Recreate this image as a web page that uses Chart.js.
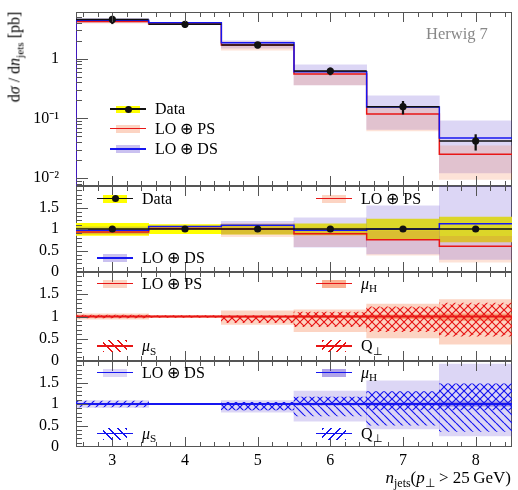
<!DOCTYPE html>
<html>
<head>
<meta charset="utf-8">
<script src="https://cdn.jsdelivr.net/npm/chart.js@4.4.1/dist/chart.umd.min.js"></script>
<style>
  body { margin: 0; background: #fff; }
  #wrap { position: relative; width: 518px; height: 490px; font-family: "Liberation Serif", serif; overflow: hidden; }
  #wrap canvas { position: absolute; left: 0; }
  .lbl { position: absolute; font-size: 16px; line-height: 18px; white-space: nowrap; color: #000; }
  .lbl .sb { font-size: 0.7em; position: relative; top: 0.35em; font-style: normal; }
  .sw { position: absolute; }
</style>
</head>
<body>
<div id="wrap">
  <canvas id="p1" width="518" height="194" style="top:2px"></canvas>
  <canvas id="p2" width="518" height="106" style="top:176px"></canvas>
  <canvas id="p3" width="518" height="109" style="top:262px"></canvas>
  <canvas id="p4" width="518" height="126" style="top:351px"></canvas>
</div>
<script>
  /* =========================
     DATA
  ========================= */
  const nJets = [3, 4, 5, 6, 7, 8];

  // top panel: dσ/dn_jets [pb]
  const dataXsec  = [4.55, 3.77, 1.70, 0.622, 0.157, 0.0418];
  const dataErrLo = [3.85, 3.35, 1.50, 0.535, 0.118, 0.0293];
  const dataErrHi = [5.15, 4.15, 1.87, 0.700, 0.193, 0.0535];
  const psXsec    = [4.20, 3.82, 1.70, 0.553, 0.118, 0.0251];
  const psXsecLo  = [3.95, 3.74, 1.39, 0.365, 0.0614, 0.00954];
  const psXsecHi  = [4.45, 3.90, 1.92, 0.636, 0.151, 0.0346];
  const dsXsec    = [4.40, 4.00, 1.85, 0.605, 0.155, 0.0470];
  const dsXsecLo  = [4.05, 3.96, 1.50, 0.363, 0.0651, 0.0122];
  const dsXsecHi  = [4.75, 4.04, 2.00, 0.787, 0.239, 0.0907];

  // ratio to data
  const dataRatio   = [1, 1, 1, 1, 1, 1];
  const dataRatioLo = [0.85, 0.89, 0.88, 0.86, 0.75, 0.70];
  const dataRatioHi = [1.13, 1.10, 1.10, 1.12, 1.23, 1.28];
  const psRatio     = [0.93, 1.01, 1.00, 0.89, 0.75, 0.60];
  const psRatioLo   = [0.87, 0.99, 0.82, 0.59, 0.39, 0.23];
  const psRatioHi   = [0.99, 1.03, 1.13, 1.02, 0.96, 0.83];
  const dsRatio     = [0.97, 1.06, 1.09, 0.97, 1.00, 1.12];
  const dsRatioLo   = [0.89, 1.05, 0.88, 0.58, 0.42, 0.29];
  const dsRatioHi   = [1.05, 1.07, 1.18, 1.26, 1.54, 2.16];

  // LO+PS variations relative to LO+PS
  const psCentral = [1, 1, 1, 1, 1, 1];
  const psEnvLo = [0.94, 0.98, 0.82, 0.66, 0.52, 0.38];
  const psEnvHi = [1.06, 1.02, 1.13, 1.15, 1.28, 1.38];
  const psMuHLo = [0.99, 0.99, 0.98, 0.97, 0.95, 0.91];
  const psMuHHi = [1.01, 1.01, 1.01, 1.02, 1.04, 1.06];
  const psMuSLo = [0.98, 0.98, 0.88, 0.79, 0.68, 0.60];
  const psMuSHi = [1.02, 1.02, 1.02, 1.09, 1.20, 1.26];
  const psQLo   = [0.97, 0.99, 0.86, 0.77, 0.66, 0.56];
  const psQHi   = [1.03, 1.01, 1.00, 1.10, 1.22, 1.30];

  // LO+DS variations relative to LO+DS
  const dsCentral = [1, 1, 1, 1, 1, 1];
  const dsEnvLo = [0.92, 0.99, 0.81, 0.60, 0.42, 0.26];
  const dsEnvHi = [1.08, 1.01, 1.08, 1.30, 1.54, 1.93];
  const dsMuHLo = [0.99, 0.995, 0.99, 0.98, 0.97, 0.95];
  const dsMuHHi = [1.01, 1.005, 1.01, 1.02, 1.03, 1.05];
  const dsMuSLo = [0.99, 0.99, 0.86, 0.72, 0.51, 0.36];
  const dsMuSHi = [1.01, 1.01, 1.04, 1.16, 1.29, 1.47];
  const dsQLo   = [0.93, 0.995, 0.86, 0.98, 0.86, 0.86];
  const dsQHi   = [1.07, 1.005, 1.04, 1.16, 1.29, 1.47];

  // axis ticks
  const logTicks = [0.01, 0.1, 1];
  const logTickLabels = ["10\u207B\u00B2", "10\u207B\u00B9", "1"];
  const ratioTicks = [0, 0.5, 1, 1.5];
  const ratioTickLabels = ["0", "0.5", "1", "1.5"];

  /* =========================
     STYLE
  ========================= */
  const FONT = "Liberation Serif";
  const RED = "rgb(232,22,22)";
  const BLUE = "rgb(22,22,240)";
  const YELLOW = "rgb(255,255,0)";
  const PS_BAND = "rgba(245,112,55,0.2)";
  const DS_BAND = "rgba(80,50,205,0.2)";
  const PS_ENV = "rgba(245,112,55,0.3)";
  const PS_MUH = "rgba(245,112,55,0.55)";
  const DS_ENV = "rgba(80,50,205,0.2)";
  const DS_MUH = "rgba(80,50,205,0.45)";
  const HALF = 0.5;

  /* =========================
     HELPERS
  ========================= */
  function steps(vals, floor) {
    const pts = nJets.map((n, i) => ({ x: n - HALF, y: vals[i] }));
    pts.push({ x: nJets[nJets.length - 1] + HALF, y: vals[vals.length - 1] });
    if (floor) pts.unshift({ x: nJets[0] - HALF, y: floor });
    return pts;
  }
  function band(lo, hi) {
    return nJets.map((n, i) => ({ x: n, y: [lo[i], hi[i]] }));
  }
  function xErr(vals) {
    const pts = [];
    nJets.forEach((n, i) => {
      pts.push({ x: n - HALF, y: vals[i] }, { x: n + HALF, y: vals[i] }, { x: n + HALF, y: null });
    });
    return pts;
  }
  function points(vals) {
    return nJets.map((n, i) => ({ x: n, y: vals[i] }));
  }

  function bandSet(data, color, order) {
    return { type: "bar", data, backgroundColor: color, borderWidth: 0,
             barPercentage: 1, categoryPercentage: 1, grouped: false, order };
  }
  function lineSet(data, color, width, order) {
    return { type: "line", data, borderColor: color, borderWidth: width, stepped: "before",
             pointRadius: 0, fill: false, spanGaps: false, order };
  }
  function dotSet(data, order) {
    return { type: "line", data, showLine: false, pointRadius: 3.6, pointBorderWidth: 0,
             pointBackgroundColor: "#111", order };
  }
  function errSet(data, order) {
    return { type: "bar", data, backgroundColor: "#111", borderWidth: 0,
             barThickness: 1.6, grouped: false, order };
  }

  function hatch(canvasId, color, dir) {
    const c = document.createElement("canvas");
    c.width = c.height = 8;
    const g = c.getContext("2d");
    g.strokeStyle = color;
    g.lineWidth = 1.2;
    g.beginPath();
    for (const k of [-8, 0, 8]) {
      if (dir === "\\") { g.moveTo(k, 0); g.lineTo(k + 8, 8); }
      else { g.moveTo(k, 8); g.lineTo(k + 8, 0); }
    }
    g.stroke();
    return document.getElementById(canvasId).getContext("2d").createPattern(c, "repeat");
  }

  // frame and inward ticks
  const frameTicks = {
    id: "frameTicks",
    beforeDatasetsDraw(chart) {
      const { ctx, chartArea: a } = chart;
      ctx.save();
      ctx.strokeStyle = "#555";
      ctx.lineWidth = 1;
      ctx.strokeRect(a.left + 0.5, a.top + 0.5, a.right - a.left - 1, a.bottom - a.top - 1);
      ctx.restore();
    },
    afterDatasetsDraw(chart) {
      const { ctx, chartArea: a, scales: { x, y } } = chart;
      ctx.save();
      ctx.strokeStyle = "#555";
      ctx.lineWidth = 1;
      ctx.beginPath();
      for (let i = 13; i <= 42; i++) {
        const px = Math.round(x.getPixelForValue(i / 5)) + 0.5;
        const len = i % 5 === 0 ? 10 : 5;
        ctx.moveTo(px, a.bottom); ctx.lineTo(px, a.bottom - len);
        ctx.moveTo(px, a.top); ctx.lineTo(px, a.top + len);
      }
      const tick = (v, major) => {
        const py = Math.round(y.getPixelForValue(v)) + 0.5;
        if (py < a.top || py > a.bottom) return;
        ctx.moveTo(a.left, py); ctx.lineTo(a.left + (major ? 12 : 6), py);
      };
      if (y.type === "logarithmic") {
        for (let d = -3; d <= 1; d++)
          for (let m = 1; m <= 9; m++) tick(m * Math.pow(10, d), m === 1);
      } else {
        for (let i = 0; i <= 20; i++) tick(i / 10, i % 5 === 0);
      }
      ctx.stroke();
      ctx.restore();
    }
  };

  function makeChart(id, yScale, datasets, showX) {
    return new Chart(document.getElementById(id), {
      type: "bar",
      data: { datasets },
      options: {
        responsive: false,
        animation: false,
        events: [],
        layout: { padding: { top: 10, bottom: showX ? 0 : 10, left: 0, right: 6 } },
        plugins: { legend: { display: false }, tooltip: { enabled: false } },
        scales: {
          x: {
            type: "linear", min: 2.5, max: 8.5, offset: false, display: showX,
            grid: { display: false }, border: { display: false },
            ticks: { padding: -4, autoSkip: false, maxRotation: 0, color: "#000",
                     font: { family: FONT, size: 16 }, callback: v => String(v) },
            afterBuildTicks: s => { s.ticks = nJets.map(v => ({ value: v })); },
            afterFit: s => {
              s.height = showX ? 30 : 0;
              s.paddingLeft = 0; s.paddingRight = 0;
            }
          },
          y: Object.assign({
            grid: { display: false }, border: { display: false },
            afterFit: s => { s.width = 76; s.paddingTop = 0; s.paddingBottom = 0; }
          }, yScale)
        }
      },
      plugins: [frameTicks]
    });
  }

  const yTickFont = { family: FONT, size: 16 };

  /* =========================
     PANEL 1: cross section
  ========================= */
  makeChart("p1", {
    type: "logarithmic", min: 0.00737, max: 6.06,
    afterBuildTicks: s => { s.ticks = logTicks.map(v => ({ value: v })); },
    ticks: { padding: 9, autoSkip: false, color: "#000", font: yTickFont, callback: (v, i) => logTickLabels[i] }
  }, [
    bandSet(band(dsXsecLo, dsXsecHi), DS_BAND, 9),
    bandSet(band(psXsecLo, psXsecHi), PS_BAND, 8),
    lineSet(steps(psXsec, 1e-4), RED, 1.5, 5),
    lineSet(steps(dsXsec, 1e-4), BLUE, 1.5, 4),
    lineSet(xErr(dataXsec), "#111", 1.5, 3),
    errSet(band(dataErrLo, dataErrHi), 2),
    dotSet(points(dataXsec), 1)
  ], false);

  const ratioAxis = {
    type: "linear", min: 0, max: 2,
    afterBuildTicks: s => { s.ticks = ratioTicks.map(v => ({ value: v })); },
    ticks: { padding: 9, autoSkip: false, color: "#000", font: yTickFont, callback: (v, i) => ratioTickLabels[i] }
  };

  /* =========================
     PANEL 2: MC / data
  ========================= */
  makeChart("p2", ratioAxis, [
    bandSet(band(dataRatioLo, dataRatioHi), YELLOW, 10),
    bandSet(band(psRatioLo, psRatioHi), PS_BAND, 9),
    bandSet(band(dsRatioLo, dsRatioHi), DS_BAND, 8),
    lineSet(steps(psRatio), RED, 1.5, 5),
    lineSet(steps(dsRatio), BLUE, 1.5, 4),
    lineSet(steps(dataRatio), "#111", 1.5, 3),
    dotSet(points(dataRatio), 1)
  ], false);

  /* =========================
     PANEL 3: LO+PS variations
  ========================= */
  makeChart("p3", ratioAxis, [
    bandSet(band(psEnvLo, psEnvHi), PS_ENV, 10),
    bandSet(band(psMuHLo, psMuHHi), PS_MUH, 9),
    bandSet(band(psMuSLo, psMuSHi), hatch("p3", RED, "\\"), 8),
    bandSet(band(psQLo, psQHi), hatch("p3", RED, "/"), 7),
    lineSet(steps(psCentral), RED, 2, 1)
  ], false);

  /* =========================
     PANEL 4: LO+DS variations
  ========================= */
  makeChart("p4", ratioAxis, [
    bandSet(band(dsEnvLo, dsEnvHi), DS_ENV, 10),
    bandSet(band(dsMuHLo, dsMuHHi), DS_MUH, 9),
    bandSet(band(dsMuSLo, dsMuSHi), hatch("p4", BLUE, "\\"), 8),
    bandSet(band(dsQLo, dsQHi), hatch("p4", BLUE, "/"), 7),
    lineSet(steps(dsCentral), BLUE, 2, 1)
  ], true);

  /* =========================
     LEGENDS & LABELS
  ========================= */
  const wrap = document.getElementById("wrap");

  function addDiv(x, y, w, h, bg) {
    const d = document.createElement("div");
    d.className = "sw";
    Object.assign(d.style, { left: x + "px", top: y + "px", width: w + "px", height: h + "px", background: bg });
    wrap.appendChild(d);
    return d;
  }
  function addText(x, y, html, extra) {
    const t = document.createElement("div");
    t.className = "lbl";
    t.style.left = x + "px";
    t.style.top = (y - 9) + "px";
    t.innerHTML = html;
    if (extra) Object.assign(t.style, extra);
    wrap.appendChild(t);
    return t;
  }
  function legendEntry(x0, y, html, s) {
    if (s.band) addDiv(x0 + 6, y - s.bandH / 2, 24, s.bandH, s.band);
    addDiv(x0, y - s.lw / 2, 36, s.lw, s.line);
    if (s.dot) addDiv(x0 + 14.5, y - 3.5, 7, 7, "#111").style.borderRadius = "50%";
    addText(x0 + 45, y, html);
  }
  const hatchCss = (c, ang) => `repeating-linear-gradient(${ang}deg, ${c} 0 1.2px, transparent 1.2px 6px)`;

  const LO_PS = "LO \u2295 PS";
  const LO_DS = "LO \u2295 DS";
  const MU_H = "<i>\u03BC</i><span class='sb'>H</span>";
  const MU_S = "<i>\u03BC</i><span class='sb'>S</span>";
  const Q_T = "Q<span class='sb'>\u22A5</span>";

  legendEntry(110, 109, "Data", { band: YELLOW, bandH: 7, line: "#111", lw: 1.5, dot: true });
  legendEntry(110, 128.5, LO_PS, { band: "rgba(245,112,55,0.3)", bandH: 8, line: RED, lw: 1.5 });
  legendEntry(110, 149, LO_DS, { band: "rgba(80,50,205,0.3)", bandH: 8, line: BLUE, lw: 1.5 });

  legendEntry(97, 198.5, "Data", { band: YELLOW, bandH: 8, line: "#111", lw: 1.5, dot: true });
  legendEntry(316, 198.5, LO_PS, { band: "rgba(245,112,55,0.3)", bandH: 8, line: RED, lw: 1.5 });
  legendEntry(97, 258, LO_DS, { band: "rgba(80,50,205,0.3)", bandH: 8, line: BLUE, lw: 1.5 });

  legendEntry(97, 283.5, LO_PS, { band: PS_ENV, bandH: 8, line: RED, lw: 1.5 });
  legendEntry(316, 283.5, MU_H, { band: PS_MUH, bandH: 8, line: RED, lw: 1.5 });
  legendEntry(97, 346, MU_S, { band: hatchCss(RED, 45), bandH: 12, line: RED, lw: 1.5 });
  legendEntry(316, 346, Q_T, { band: hatchCss(RED, -45), bandH: 12, line: RED, lw: 1.5 });

  legendEntry(97, 372.5, LO_DS, { band: DS_ENV, bandH: 8, line: BLUE, lw: 1.5 });
  legendEntry(316, 372.5, MU_H, { band: DS_MUH, bandH: 8, line: BLUE, lw: 1.5 });
  legendEntry(97, 433.5, MU_S, { band: hatchCss(BLUE, 45), bandH: 12, line: BLUE, lw: 1.5 });
  legendEntry(316, 433.5, Q_T, { band: hatchCss(BLUE, -45), bandH: 12, line: BLUE, lw: 1.5 });

  addText(426, 34, "Herwig 7", { color: "#888", fontSize: "16.5px" });

  addText(15, 57, "d<i>\u03C3</i> / d<i>n</i><span class='sb'>jets</span> [pb]",
    { transform: "translate(-50%,-50%) rotate(-90deg)", top: "57px" });

  addText(0, 478, "<i>n</i><span class='sb'>jets</span>(<i>p</i><span class='sb'>\u22A5</span> &gt; 25&#8201;GeV)",
    { left: "auto", right: "7px", fontSize: "17px" });
</script>
</body>
</html>
